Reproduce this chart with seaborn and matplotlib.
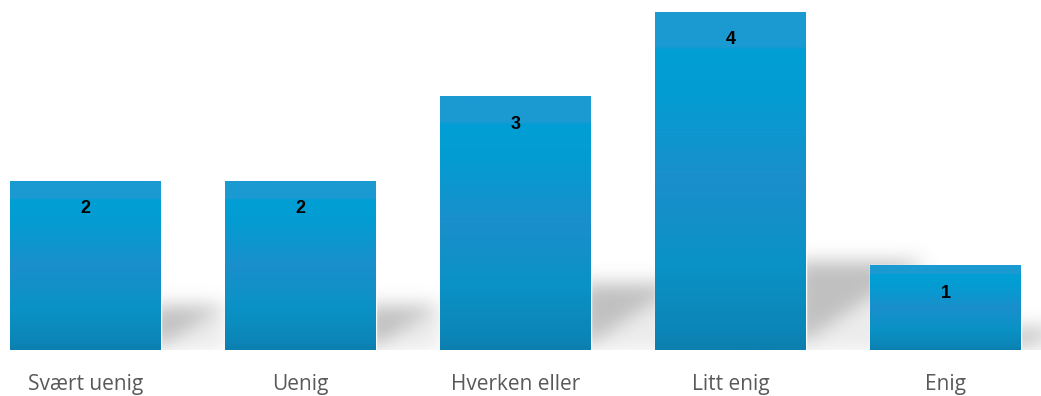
import numpy as np
import pandas as pd
import matplotlib
matplotlib.use('Agg')
import matplotlib.pyplot as plt
from matplotlib.colors import LinearSegmentedColormap
import seaborn as sns

# Data
categories = ['Svært uenig', 'Uenig', 'Hverken eller', 'Litt enig', 'Enig']
counts = [2, 2, 3, 4, 1]

df = pd.DataFrame({'svar': categories, 'antall': counts})

sns.set_style('white')
plt.rcParams['font.family'] = ['Open Sans', 'DejaVu Sans']

PX_X, PX_Y = 215.0, 84.5  # pixels per data unit


def gauss_blur(a, sigma):
    r = int(3 * sigma)
    k = np.exp(-0.5 * (np.arange(-r, r + 1) / sigma) ** 2)
    k /= k.sum()
    a = np.apply_along_axis(lambda m: np.convolve(m, k, mode='same'), 0, a)
    a = np.apply_along_axis(lambda m: np.convolve(m, k, mode='same'), 1, a)
    return a


def soft_shadow(ax, xr, h):
    H = 0.26 * h
    Wd = 0.12 * h + 0.06
    v0 = 0.12 * H
    x_lo, x_hi = xr - 0.15, xr + Wd + 0.25
    y_hi = H + 0.5
    nx, ny = int((x_hi - x_lo) * PX_X), int(y_hi * PX_Y)
    xs = np.linspace(x_lo, x_hi, nx)
    ys = np.linspace(0, y_hi, ny)
    U, V = np.meshgrid(xs - xr, ys)
    line = v0 + (H - v0) * U / Wd
    core = ((U >= -0.05) & (V <= H) & (V >= line)).astype(float)
    lower = ((U >= -0.05) & (V < line) & (U <= Wd)).astype(float) * 0.3
    m = gauss_blur(np.maximum(core, lower), 9)
    rgba = np.zeros((ny, nx, 4))
    rgba[..., :3] = 0.45
    rgba[..., 3] = np.clip(m * 0.45, 0, 1)
    ax.imshow(rgba, extent=[x_lo, x_hi, 0, y_hi], origin='lower',
              aspect='auto', zorder=2, interpolation='bilinear')


fig = plt.figure(figsize=(10.41, 3.96), dpi=100)
ax = fig.add_axes([0, 0.1162, 1, 0.8838])

sns.barplot(data=df, x='svar', y='antall', color='#0a9ad2', width=0.70,
            saturation=1, ax=ax, zorder=3)

# banded gradient inside each bar
grad = LinearSegmentedColormap.from_list('bars', [
    (0.0, '#0b7fae'), (0.06, '#0c86b8'), (0.25, '#0a92c6'),
    (0.5, '#1a8fcb'), (0.75, '#049cd2'), (0.89, '#009fd5'),
    (0.90, '#1b9ad2'), (1.0, '#1b9ad2')])
g = np.linspace(0, 1, 256).reshape(-1, 1)
for bar in list(ax.patches):
    x0, w, h = bar.get_x(), bar.get_width(), bar.get_height()
    im = ax.imshow(g, cmap=grad, origin='lower', aspect='auto',
                   extent=[x0, x0 + w, 0, h], zorder=3.5)
    im.set_clip_path(bar)
    soft_shadow(ax, x0 + w, h)
    ax.text(x0 + w / 2, h - 0.33, f'{int(h)}', ha='center', va='center',
            fontsize=13, fontweight='bold', color='black',
            family='Liberation Sans', zorder=5)

ax.set_xlim(-0.3977, 4.444)
ax.set_ylim(0, 4.142)
ax.set_xlabel('')
ax.set_ylabel('')
ax.set_yticks([])
ax.tick_params(axis='x', length=0, pad=17, labelsize=15, labelcolor='#595959')
sns.despine(ax=ax, left=True, bottom=True)

fig.savefig('out.png', dpi=100)
